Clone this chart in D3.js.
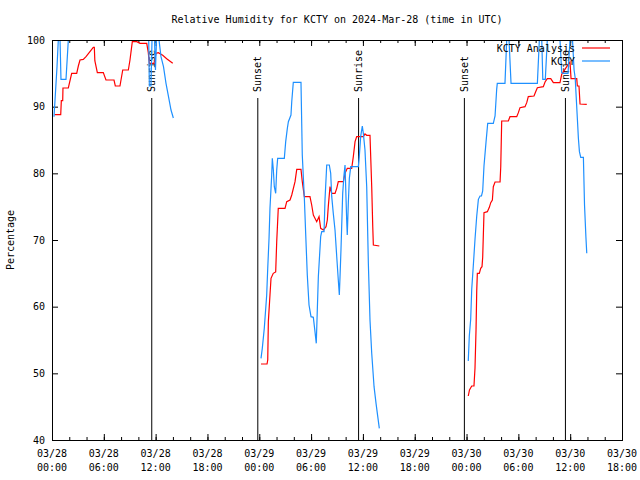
<!DOCTYPE html>
<html>
<head>
<meta charset="utf-8">
<script src="https://cdn.jsdelivr.net/npm/d3@7"></script>
<style>
  body { margin: 0; background: #fff; }
  text { font-family: "DejaVu Sans Mono", monospace; font-size: 10px; fill: #000; }
</style>
</head>
<body>
<script>
// hours since 2024-03-28 00:00 UTC
const analysisHours = [
  0.31, 1.01, 1.08, 1.24, 1.27, 1.89, 2.28, 2.86, 3.05, 3.24, 3.62, 3.94, 4.78, 4.90, 4.96, 5.25,
  5.94, 6.25, 7.18, 7.33, 7.87, 8.19, 8.84, 9.03, 9.30, 9.81, 10.19, 10.97, 11.15, 11.27, 11.81,
  12.04, 12.31, 12.82, 13.28, 13.98,
  null,
  24.20, 24.90, 24.98, 25.05, 25.24, 25.36, 25.62, 25.90, 26.02, 26.20, 26.98, 27.18, 27.56, 27.76,
  28.14, 28.34, 28.83, 28.98, 29.22, 29.87, 30.07, 30.26, 30.65, 30.92, 31.11, 31.42, 31.73, 31.88,
  31.99, 32.19, 32.39, 32.77, 32.97, 33.15, 33.73, 33.93, 34.19, 34.70, 34.89, 35.09, 35.28, 36.05,
  36.24, 36.44, 36.82, 37.02, 37.14, 37.21, 37.90,
  null,
  48.20, 48.34, 48.60, 48.86, 48.98, 49.10, 49.18, 49.25, 49.48, 49.64, 49.79, 49.87, 50.02, 50.41,
  50.64, 50.80, 50.99, 51.10, 51.30, 51.88, 51.96, 52.07, 52.84, 53.03, 53.81, 54.00, 54.19, 54.77,
  54.97, 55.15, 55.81, 56.04, 56.20, 56.89, 57.09, 57.35, 57.75, 58.05, 58.82, 59.02, 59.60, 59.98,
  60.10, 60.76, 60.83, 61.02, 61.14, 61.92
];
const analysisRH = [
  88.8, 88.8, 90.9, 90.9, 92.8, 92.8, 95.0, 95.0, 96.1, 97.0, 97.1, 97.5, 98.9, 98.9, 96.9, 95.1,
  95.1, 94.0, 94.0, 93.1, 93.1, 95.5, 95.5, 97.0, 99.75, 99.75, 99.5, 99.5, 98.1, 96.5, 96.5,
  98.0, 98.1, 97.7, 97.2, 96.5,
  null,
  51.4, 51.4, 52.0, 57.75, 61.75, 64.25, 65.0, 65.2, 69.75, 74.75, 74.75, 75.75, 76.0, 76.75,
  78.75, 80.6, 80.6, 78.75, 76.5, 76.5, 75.25, 73.75, 72.75, 73.5, 71.75, 71.5, 72.0, 73.0,
  75.0, 78.0, 77.0, 77.0, 77.75, 78.75, 78.75, 80.0, 80.75, 80.75, 82.5, 84.75, 85.5, 85.5,
  85.9, 85.7, 85.7, 78.0, 72.0, 69.25, 69.1,
  null,
  46.6, 47.5, 48.1, 48.1, 50.8, 56.6, 62.4, 65.0, 65.0, 65.75, 66.0, 67.4, 74.1, 74.25,
  74.9, 75.6, 76.0, 78.0, 78.7, 78.7, 81.0, 87.85, 87.85, 88.5, 88.5, 89.1, 89.85, 90.0,
  90.6, 91.5, 91.6, 92.35, 92.85, 93.0, 93.7, 94.2, 94.2, 93.6, 93.6, 94.85, 96.0, 96.7,
  94.2, 94.2, 93.1, 93.1, 90.4, 90.35
];

const obsHours = [
  0.23, 0.35, 0.58, 0.73, 0.93, 1.04, 1.62, 1.89, 11.20, 11.27, 11.46, 11.58, 11.87, 11.98, 12.10,
  12.39, 12.62, 12.91, 13.20, 13.49, 13.78, 14.05,
  null,
  24.20, 24.35, 24.58, 24.86, 24.98, 25.13, 25.24, 25.36, 25.44, 25.51, 25.63, 25.74, 25.90, 26.02,
  26.13, 26.90, 27.06, 27.25, 27.37, 27.67, 27.76, 27.94, 28.83, 28.98, 29.22, 29.38, 29.56, 29.76,
  29.99, 30.26, 30.45, 30.60, 30.84, 31.11, 31.23, 31.50, 31.61, 31.81, 32.11, 32.27, 32.39, 32.57,
  32.77, 32.97, 33.15, 33.27, 33.35, 33.46, 33.66, 33.81, 33.93, 34.12, 34.19, 34.31, 34.43, 34.59,
  35.47, 35.58, 35.74, 35.93, 36.05, 36.24, 36.44, 36.63, 36.82, 37.02, 37.29, 37.52, 37.67, 37.90,
  null,
  48.20, 48.32, 48.48, 48.60, 48.78, 48.98, 49.18, 49.37, 49.56, 49.73, 49.87, 50.02, 50.25, 50.45,
  51.10, 51.30, 51.49, 51.56, 52.45, 52.65, 52.92, 53.15, 56.20, 56.43, 56.71, 56.83, 57.12, 57.35,
  58.82, 59.02, 59.17, 59.75, 59.98, 60.27, 60.45, 60.58, 60.84, 60.95, 61.07, 61.22, 61.53, 61.66,
  61.82, 61.92
];
const obsRH = [
  88.5, 91.0, 96.0, 100, 100, 94.1, 94.1, 100, 100, 93.1, 93.1, 100, 100, 95.5, 100,
  100, 97.5, 96.0, 93.5, 91.5, 89.5, 88.3,
  null,
  52.25, 53.75, 56.75, 61.75, 65.75, 70.25, 74.75, 77.75, 79.75, 82.25, 80.5, 78.0, 77.0, 80.5,
  82.25, 82.25, 84.75, 86.75, 87.75, 88.75, 90.75, 93.65, 93.65, 82.75, 76.25, 70.75, 64.75, 60.25,
  58.5, 58.4, 56.25, 54.5, 64.5, 70.5, 71.25, 71.25, 76.0, 81.25, 81.25, 80.0, 76.5, 74.0,
  71.5, 67.5, 64.0, 61.75, 64.5, 68.5, 77.0, 79.75, 81.25, 73.0, 70.75, 75.5, 79.25, 81.0,
  81.0, 82.5, 85.5, 87.1, 86.0, 83.5, 78.0, 66.5, 58.0, 53.0, 48.0, 45.5, 44.0, 41.75,
  null,
  51.85, 55.6, 58.1, 62.6, 66.1, 70.1, 73.6, 76.1, 76.6, 76.6, 77.35, 81.1, 84.6, 87.5,
  87.5, 88.6, 92.6, 93.5, 93.5, 100, 100, 93.5, 93.5, 100, 100, 94.1, 94.1, 100,
  100, 95.1, 95.0, 95.0, 100, 100, 95.5, 94.3, 88.0, 85.25, 83.25, 82.4, 82.4, 75.25,
  70.5, 68.0
];

const sunEvents = ["Sunrise", "Sunset", "Sunrise", "Sunset", "Sunrise"];
const sunHours = [11.55, 23.83, 35.5, 47.75, 59.45];

const yTicks = [40, 50, 60, 70, 80, 90, 100];
const seriesNames = ["KCTY Analysis", "KCTY"];
const seriesColors = ["#ff0000", "#1e90ff"];

const t0 = Date.UTC(2024, 2, 28);
const toDate = h => new Date(t0 + h * 3600e3);

const width = 640, height = 480;
const margin = { left: 52, right: 18, top: 40, bottom: 40 };

const svg = d3.select("body").append("svg")
  .attr("width", width)
  .attr("height", height);

const x = d3.scaleUtc()
  .domain([toDate(0), toDate(66)])
  .range([margin.left, width - margin.right]);
const y = d3.scaleLinear()
  .domain([40, 100])
  .range([height - margin.bottom, margin.top]);

svg.append("defs").append("clipPath").attr("id", "plot")
  .append("rect")
  .attr("x", margin.left).attr("y", margin.top)
  .attr("width", width - margin.left - margin.right)
  .attr("height", height - margin.top - margin.bottom);

// title
svg.append("text")
  .attr("x", (margin.left + width - margin.right) / 2)
  .attr("y", 23)
  .attr("text-anchor", "middle")
  .text("Relative Humidity for KCTY on 2024-Mar-28 (time in UTC)");

svg.append("text")
  .attr("transform", `translate(14,${(margin.top + height - margin.bottom) / 2}) rotate(-90)`)
  .attr("text-anchor", "middle")
  .text("Percentage");

// axes
const majorTicks = x.ticks(d3.utcHour.every(6));
const minorTicks = x.ticks(d3.utcHour.every(2));

function noDomain(g) { g.select(".domain").remove(); }

svg.append("g")
  .attr("transform", `translate(0,${height - margin.bottom})`)
  .call(d3.axisBottom(x).tickValues(minorTicks).tickSize(-3).tickFormat(""))
  .call(noDomain);
svg.append("g")
  .attr("transform", `translate(0,${height - margin.bottom})`)
  .call(d3.axisBottom(x).tickValues(majorTicks).tickSize(-6).tickFormat(""))
  .call(noDomain);
svg.append("g")
  .attr("transform", `translate(0,${margin.top})`)
  .call(d3.axisTop(x).tickValues(minorTicks).tickSize(-3).tickFormat(""))
  .call(noDomain);
svg.append("g")
  .attr("transform", `translate(0,${margin.top})`)
  .call(d3.axisTop(x).tickValues(majorTicks).tickSize(-6).tickFormat(""))
  .call(noDomain);

const fmtDay = d3.utcFormat("%m/%d");
const fmtTime = d3.utcFormat("%H:%M");
const xLabels = svg.append("g").selectAll("text")
  .data(majorTicks)
  .join("text")
  .attr("text-anchor", "middle");
xLabels.append("tspan")
  .attr("x", d => x(d)).attr("y", 457)
  .text(d => fmtDay(d));
xLabels.append("tspan")
  .attr("x", d => x(d)).attr("y", 471)
  .text(d => fmtTime(d));

svg.append("g")
  .attr("transform", `translate(${margin.left},0)`)
  .call(d3.axisLeft(y).tickValues(yTicks).tickSize(-6).tickPadding(7))
  .call(noDomain)
  .call(g => g.selectAll("text").style("font-family", "DejaVu Sans Mono").style("font-size", "10px"));
svg.append("g")
  .attr("transform", `translate(${width - margin.right},0)`)
  .call(d3.axisRight(y).tickValues(yTicks).tickSize(-6).tickFormat(""))
  .call(noDomain);

svg.selectAll(".tick line").attr("stroke", "#000");

// sunrise / sunset
const sunTop = 91.3;
const sun = svg.append("g").selectAll("g")
  .data(sunHours)
  .join("g");
sun.append("line")
  .attr("x1", d => x(toDate(d))).attr("x2", d => x(toDate(d)))
  .attr("y1", y(40)).attr("y2", y(sunTop))
  .attr("stroke", "#000").attr("stroke-width", 1);
sun.append("text")
  .attr("transform", d => `translate(${x(toDate(d)) + 3.5},${y(sunTop) - 6}) rotate(-90)`)
  .text((d, i) => sunEvents[i]);

// series
const line = d3.line()
  .defined(d => d[0] !== null && d[1] !== null)
  .x(d => x(toDate(d[0])))
  .y(d => y(d[1]));

const series = [
  d3.zip(analysisHours, analysisRH),
  d3.zip(obsHours, obsRH)
];

svg.append("g").attr("clip-path", "url(#plot)")
  .selectAll("path")
  .data(series)
  .join("path")
  .attr("fill", "none")
  .attr("stroke", (d, i) => seriesColors[i])
  .attr("stroke-width", 1.2)
  .attr("d", line);

// legend
const legend = svg.append("g").selectAll("g")
  .data(seriesNames)
  .join("g")
  .attr("transform", (d, i) => `translate(0,${48 + i * 13})`);
legend.append("text")
  .attr("x", 575).attr("y", 4)
  .attr("text-anchor", "end")
  .text(d => d);
legend.append("line")
  .attr("x1", 582).attr("x2", 610)
  .attr("stroke", (d, i) => seriesColors[i])
  .attr("stroke-width", 1.2);

// border
svg.append("rect")
  .attr("x", margin.left + 0.5).attr("y", margin.top + 0.5)
  .attr("width", width - margin.left - margin.right)
  .attr("height", height - margin.top - margin.bottom)
  .attr("fill", "none")
  .attr("stroke", "#000");
</script>
</body>
</html>
